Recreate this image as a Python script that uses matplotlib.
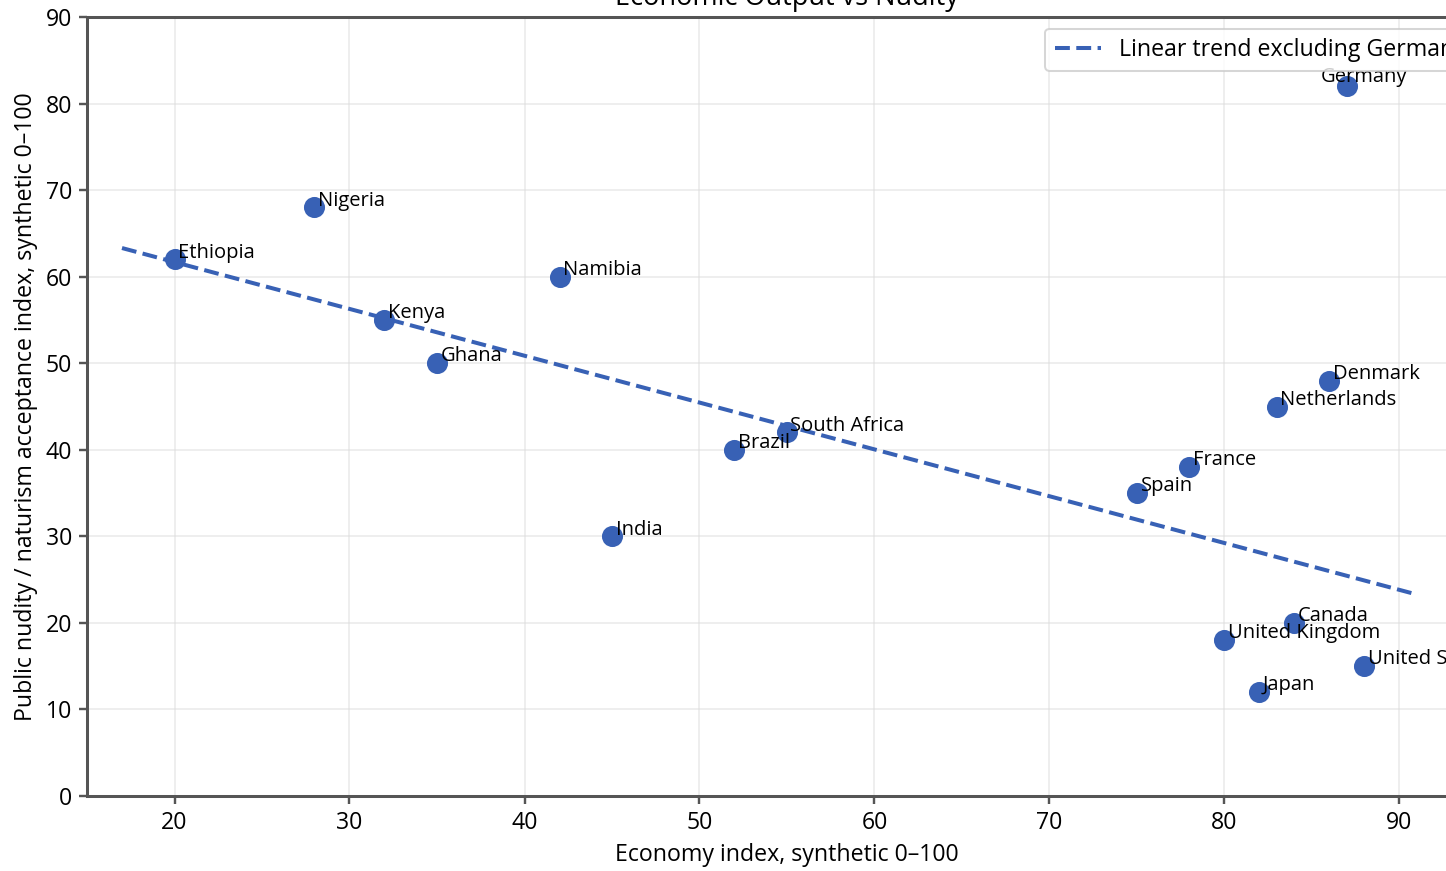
import numpy as np
import matplotlib
matplotlib.use("Agg")
import matplotlib.pyplot as plt

plt.rcParams['font.family'] = ['Open Sans', 'DejaVu Sans']

countries = ["Ethiopia", "Nigeria", "Namibia", "Kenya", "Ghana", "India", "Brazil",
             "South Africa", "Spain", "France", "Netherlands", "Denmark", "Germany",
             "Canada", "United Kingdom", "Japan", "United States"]
economy = [20, 28, 42, 32, 35, 45, 52, 55, 75, 78, 83, 86, 87, 84, 80, 82, 88]
nudity = [62, 68, 60, 55, 50, 30, 40, 42, 35, 38, 45, 48, 82, 20, 18, 12, 15]

blue = "#3861b5"

fig = plt.figure(figsize=(10, 871 / 144.6), dpi=144.6)
ax = fig.add_axes([87 / 1446, 75 / 871, 1400 / 1446, 779 / 871])

ax.scatter(economy, nudity, s=90, color=blue, zorder=3)

# trend without Germany
x = np.array([e for e, c in zip(economy, countries) if c != "Germany"])
y = np.array([n for n, c in zip(nudity, countries) if c != "Germany"])
m, b = np.polyfit(x, y, 1)
xs = np.linspace(x.min() - 3, x.max() + 3, 100)
ax.plot(xs, m * xs + b, "--", color=blue, lw=2, label="Linear trend excluding Germany", zorder=2)

for c, e, n in zip(countries, economy, nudity):
    if c == "Germany":
        ax.text(e + 1, n + 0.5, c, ha="center", fontsize=10, zorder=4)
    else:
        ax.text(e + 0.2, n + 0.2, c, fontsize=10, zorder=4)

ax.set_xlim(15, 95)
ax.set_ylim(0, 90)
ax.set_xticks(range(20, 91, 10))
ax.set_yticks(range(0, 91, 10))
ax.grid(True, color="#dddddd", alpha=0.6, lw=0.8)
for s in ax.spines.values():
    s.set_linewidth(1.5)
    s.set_color("#555555")
ax.tick_params(labelsize=11.5, width=1.2, length=4, color="#555555")

ax.set_title("Economic Output vs Nudity", fontsize=13.5)
ax.set_xlabel("Economy index, synthetic 0–100", fontsize=11.5)
ax.set_ylabel("Public nudity / naturism acceptance index, synthetic 0–100", fontsize=11.5)
ax.legend(loc="upper right", fontsize=11.5)

fig.savefig("out.png", dpi=144.6)
